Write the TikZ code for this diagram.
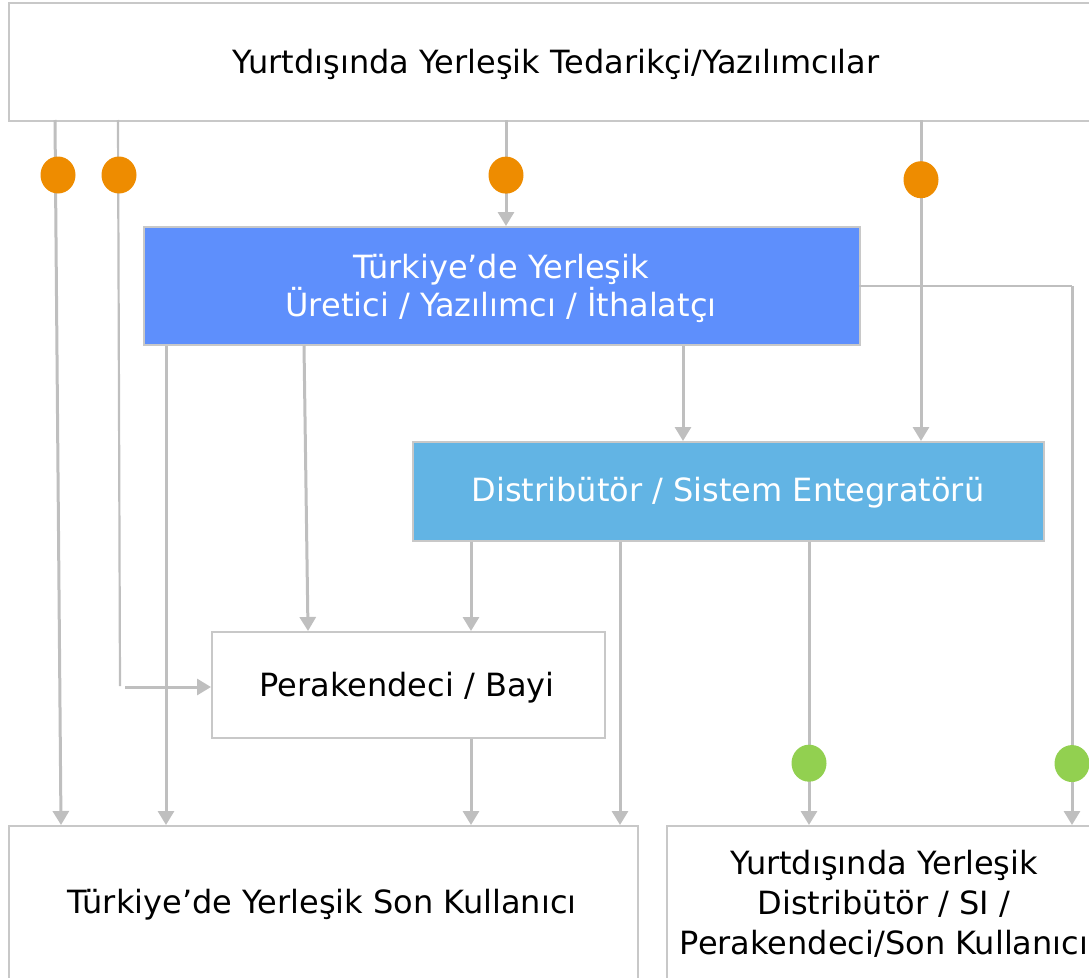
\documentclass[tikz,border=0pt]{standalone}
\usepackage{fontspec}
\setmainfont{DejaVu Sans}
\usetikzlibrary{arrows.meta,shapes.geometric}
\definecolor{lineg}{HTML}{BFBFBF}
\definecolor{boxg}{HTML}{C8C8C8}
\definecolor{blueA}{HTML}{5E8FFC}
\definecolor{blueB}{HTML}{62B4E4}
\definecolor{dotO}{HTML}{EE8C00}
\definecolor{dotG}{HTML}{92D050}
\tikzset{
  box/.style={draw=boxg, line width=1.5pt, inner sep=0pt, align=center},
  wbox/.style={box, fill=white, text=black},
  bbox/.style={box, text=white},
  lbl/.style={font=\fontsize{32}{40}\selectfont, align=center, inner sep=0pt},
  conn/.style={draw=lineg, line width=3pt, -{Triangle[width=16pt,length=14pt]}},
  thin/.style={draw=lineg, line width=2.2pt},
  odot/.style={ellipse, fill=dotO, minimum width=35pt, minimum height=37pt, inner sep=0pt},
  gdot/.style={ellipse, fill=dotG, minimum width=35pt, minimum height=37pt, inner sep=0pt},
}
\begin{document}
\begin{tikzpicture}[x=1pt,y=-1pt]
\useasboundingbox (0,0) rectangle (1089,977);
% boxes
\node[wbox, minimum width=1100pt, minimum height=118pt, anchor=north west] (top) at (8,2) {};
\node[lbl] (toptxt) at (556,64) {Yurtdışında Yerleşik Tedarikçi/Yazılımcılar};
\node[bbox, fill=blueA, minimum width=716pt, minimum height=118pt, anchor=north west] (uret) at (143,226) {};
\node[lbl, text=white, font=\fontsize{32}{38}\selectfont] (urettxt) at (501,288) {Türkiye’de Yerleşik\\Üretici / Yazılımcı / İthalatçı};
\node[bbox, fill=blueB, minimum width=631pt, minimum height=99pt, anchor=north west] (dist) at (412,441) {};
\node[lbl, text=white] (disttxt) at (728,493) {Distribütör / Sistem Entegratörü};
\node[wbox, minimum width=393pt, minimum height=106pt, anchor=north west] (per) at (211,631) {};
\node[lbl] (pertxt) at (407,688) {Perakendeci / Bayi};
\node[wbox, minimum width=629pt, minimum height=200pt, anchor=north west] (sonk) at (8,825) {};
\node[lbl] (sonktxt) at (322,905) {Türkiye’de Yerleşik Son Kullanıcı};
\node[wbox, minimum width=500pt, minimum height=200pt, anchor=north west] (yurt) at (666,825) {};
\node[lbl] (yurttxt) at (884,904) {Yurtdışında Yerleşik\\Distribütör / SI /\\Perakendeci/Son Kullanıcı};
% coordinates
\coordinate (a1) at (55,120);  \coordinate (b1) at (61,825);
\coordinate (a2) at (118,120); \coordinate (b2) at (120,686); \coordinate (c2) at (125,687);
\coordinate (a3) at (506,120);
\coordinate (a4) at (921,120);
\coordinate (a5) at (859,286); \coordinate (m5) at (1072,286);
% connectors
\draw[conn] (a1) -- (b1);
\node[odot] (o1) at (58,175) {};
\draw[thin] (a2) -- (b2);
\node[odot] (o2) at (119,175) {};
\draw[conn] (c2) -- (per.west |- c2);
\draw[conn] (a3) -- node[pos=0.52, odot] (o3) {} (a3 |- uret.north);
\draw[conn] (a4) -- node[pos=0.186, odot] (o4) {} (a4 |- dist.north);
\draw[thin] (a5) -- (m5);
\draw[conn] (m5) -- node[pos=0.886, gdot] (g2) {} (m5 |- yurt.north);
\draw[conn] (uret.south -| 166,0) -- (sonk.north -| 166,0);
\draw[conn] (uret.south -| 304,0) -- (per.north -| 308,0);
\draw[conn] (uret.south -| 683,0) -- (dist.north -| 683,0);
\draw[conn] (dist.south -| 471,0) -- (per.north -| 471,0);
\draw[conn] (dist.south -| 620,0) -- (sonk.north -| 620,0);
\draw[conn] (dist.south -| 809,0) -- node[pos=0.782, gdot] (g1) {} (yurt.north -| 809,0);
\draw[conn] (per.south -| 471,0) -- (sonk.north -| 471,0);
\end{tikzpicture}
\end{document}
